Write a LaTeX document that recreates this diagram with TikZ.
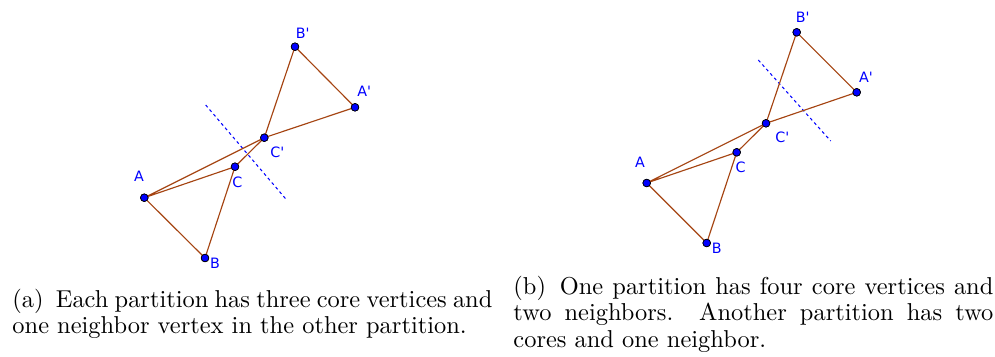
\documentclass[tikz,border=0pt]{standalone}
\usepackage{fontspec}
\newfontfamily\labfont{DejaVu Sans}
\definecolor{edgebrown}{RGB}{165,68,18}
\definecolor{ptblue}{RGB}{0,0,255}
\tikzset{
  edge/.style={draw=edgebrown, line width=0.5pt},
  sep/.style={draw=ptblue, line width=0.45pt, dash pattern=on 1.3pt off 1.3pt},
  pt/.style={circle, fill=ptblue, draw=black, line width=0.3pt, minimum size=3.3pt, inner sep=0pt},
  lab/.style={text=ptblue, font=\labfont\fontsize{6.2}{7}\selectfont, inner sep=0pt},
  cap/.style={anchor=north west, inner sep=0pt, text width=#1, align=justify, font=\normalfont\fontsize{10.6}{11.5}\selectfont}
}
\begin{document}
\begin{tikzpicture}[x=0.434pt,y=-0.434pt]
\useasboundingbox (0,0) rectangle (995,356);
% ---------- (a) ----------
\draw[sep] (205.7,105) coordinate (d1a) -- (286.7,200) coordinate (d2a);
\node[pt] (aA) at (144.3,197.7) {};
\node[pt] (aB) at (205,258) {};
\node[pt] (aC) at (235,166.7) {};
\node[pt] (aCp) at (264.3,137.7) {};
\node[pt] (aAp) at (355,107.3) {};
\node[pt] (aBp) at (295,46.7) {};
\draw[edge] (aA.center) -- (aB.center) -- (aC.center) -- (aA.center) -- (aCp.center);
\draw[edge] (aC.center) -- (aCp.center) -- (aAp.center) -- (aBp.center) -- (aCp.center);
\foreach \n in {aA,aB,aC,aCp,aAp,aBp}{\node[pt] at (\n) {};}
\node[lab] (laA) at (139,176.5) {A};
\node[lab] (laB) at (215,263.3) {B};
\node[lab] (laC) at (237.3,182.3) {C};
\node[lab] (laCp) at (277.3,152.7) {C'};
\node[lab] (laAp) at (364.3,91.7) {A'};
\node[lab] (laBp) at (302.7,33.3) {B'};
% ---------- (b) ----------
\draw[sep] (758.3,60) coordinate (d1b) -- (830.7,141) coordinate (d2b);
\node[pt] (bA) at (646.7,183) {};
\node[pt] (bB) at (706.7,243) {};
\node[pt] (bC) at (736.7,152.3) {};
\node[pt] (bCp) at (766,123.3) {};
\node[pt] (bAp) at (856.7,92.3) {};
\node[pt] (bBp) at (796.7,32.3) {};
\draw[edge] (bA.center) -- (bB.center) -- (bC.center) -- (bA.center) -- (bCp.center);
\draw[edge] (bC.center) -- (bCp.center) -- (bAp.center) -- (bBp.center) -- (bCp.center);
\foreach \n in {bA,bB,bC,bCp,bAp,bBp}{\node[pt] at (\n) {};}
\node[lab] (lbA) at (640,162.7) {A};
\node[lab] (lbB) at (716.7,248.3) {B};
\node[lab] (lbC) at (740.7,167.7) {C};
\node[lab] (lbCp) at (782.3,137.7) {C'};
\node[lab] (lbAp) at (866,77.7) {A'};
\node[lab] (lbBp) at (802.7,17.3) {B'};
% ---------- captions ----------
\node[cap=208.3pt] (capa) at (12,288.7) {(a)\hskip 0.5em plus 0.25em Each partition has three core vertices and one neighbor vertex in the other partition.};
\node[cap=208.3pt] (capb) at (513,275.7) {(b)\hskip 0.5em plus 0.25em One partition has four core vertices and two neighbors. Another partition has two cores and one neighbor.};
\end{tikzpicture}
\end{document}
